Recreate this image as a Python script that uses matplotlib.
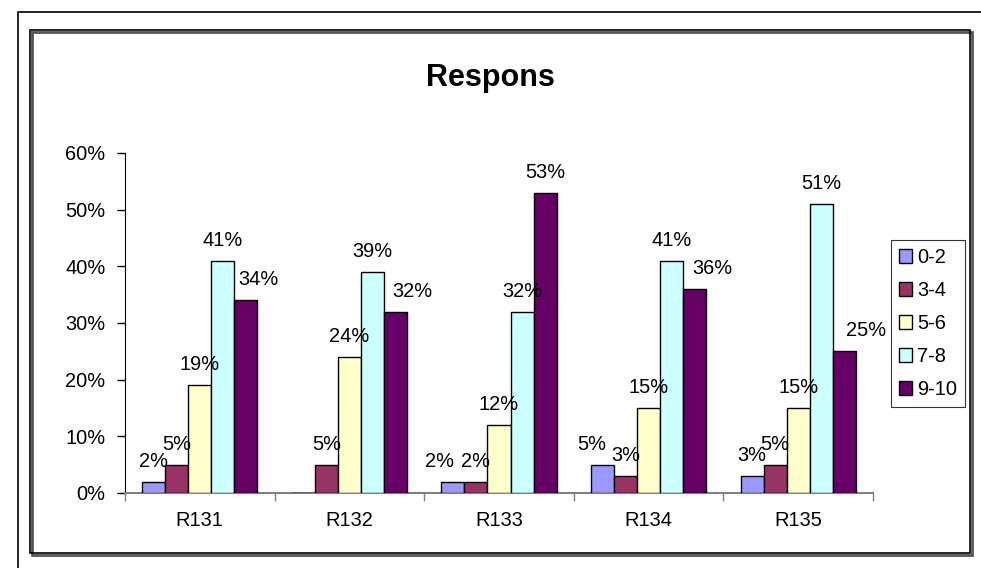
import matplotlib
matplotlib.use("Agg")
import matplotlib.pyplot as plt
import numpy as np
from matplotlib.patches import Rectangle

plt.rcParams['font.family'] = ['Liberation Sans', 'DejaVu Sans']

categories = ["R131", "R132", "R133", "R134", "R135"]
series_names = ["0-2", "3-4", "5-6", "7-8", "9-10"]
v_0_2 = [0.02, 0.00, 0.02, 0.05, 0.03]
v_3_4 = [0.05, 0.05, 0.02, 0.03, 0.05]
v_5_6 = [0.19, 0.24, 0.12, 0.15, 0.15]
v_7_8 = [0.41, 0.39, 0.32, 0.41, 0.51]
v_9_10 = [0.34, 0.32, 0.53, 0.36, 0.25]
series_values = [v_0_2, v_3_4, v_5_6, v_7_8, v_9_10]
colors = ["#9999FF", "#993366", "#FFFFCC", "#CCFFFF", "#660066"]
yticks = [0, 0.1, 0.2, 0.3, 0.4, 0.5, 0.6]
ytick_labels = ["0%", "10%", "20%", "30%", "40%", "50%", "60%"]

# horizontal nudges (in points) of a few data labels, as in the reference rendering
label_nudge = {(0, 2): -10, (0, 3): -8, (4, 0): 9, (4, 1): 12, (4, 3): 13, (4, 4): 16}

W, H = 981, 568
fig = plt.figure(figsize=(W / 100, H / 100), dpi=100)

def fx(px):
    return px / W

def fy(py):
    return 1 - py / H

# outer border
fig.patches.append(Rectangle((fx(18), fy(600)), fx(1000) - fx(18), fy(12) - fy(600),
                             transform=fig.transFigure, fill=False, edgecolor="black", lw=1.2))
# inner chart area border (with slight shadow)
fig.patches.append(Rectangle((fx(32), fy(555)), fx(972) - fx(32), fy(32) - fy(555),
                             transform=fig.transFigure, fill=False, edgecolor="#555555", lw=2.0))
fig.patches.append(Rectangle((fx(30), fy(553)), fx(970) - fx(30), fy(30) - fy(553),
                             transform=fig.transFigure, fill=False, edgecolor="black", lw=1.2))

ax = fig.add_axes([fx(125), fy(493), fx(873) - fx(125), fy(153) - fy(493)])

n = len(categories)
k = len(series_names)
bw = 0.154
x = np.arange(n)
for i, (name, vals, c) in enumerate(zip(series_names, series_values, colors)):
    pos = x + (i - (k - 1) / 2) * bw
    ax.bar(pos, vals, width=bw, color=c, edgecolor="black", linewidth=1.0, label=name, zorder=3)
    for j, (p, v) in enumerate(zip(pos, vals)):
        if v > 0:
            dx = label_nudge.get((i, j), 0)
            ax.annotate(f"{round(v * 100)}%", (p, v), xytext=(dx, 8), textcoords="offset points",
                        ha="center", va="bottom", fontsize=14.4, zorder=4)

ax.set_xlim(-0.5, n - 0.5)
ax.set_ylim(0, 0.6)
ax.set_yticks(yticks)
ax.set_yticklabels(ytick_labels, fontsize=14.4)
ax.set_xticks(x)
ax.set_xticklabels(categories, fontsize=14.4)
ax.set_xticks(np.arange(n + 1) - 0.5, minor=True)
ax.tick_params(axis="x", which="major", length=0, pad=13)
ax.tick_params(axis="x", which="minor", length=6, color="#808080", width=1.0, direction="out")
ax.tick_params(axis="y", length=6, width=1.0, direction="out", pad=8)
for s in ["top", "right"]:
    ax.spines[s].set_visible(False)
ax.spines["left"].set_color("black")
ax.spines["bottom"].set_color("#808080")
ax.spines["bottom"].set_linewidth(1.5)
ax.set_facecolor("none")

fig.text(0.5, fy(78), "Respons", ha="center", va="center", fontsize=22, fontweight="bold")

leg = fig.legend(loc="upper left", bbox_to_anchor=(fx(891), fy(240)), frameon=True,
                 fancybox=False, edgecolor="black", fontsize=14.4, handlelength=0.65,
                 handleheight=0.65, handletextpad=0.25, labelspacing=0.7, borderpad=0.4,
                 borderaxespad=0)
leg.get_frame().set_linewidth(0.8)

fig.savefig("out.png", dpi=100)
